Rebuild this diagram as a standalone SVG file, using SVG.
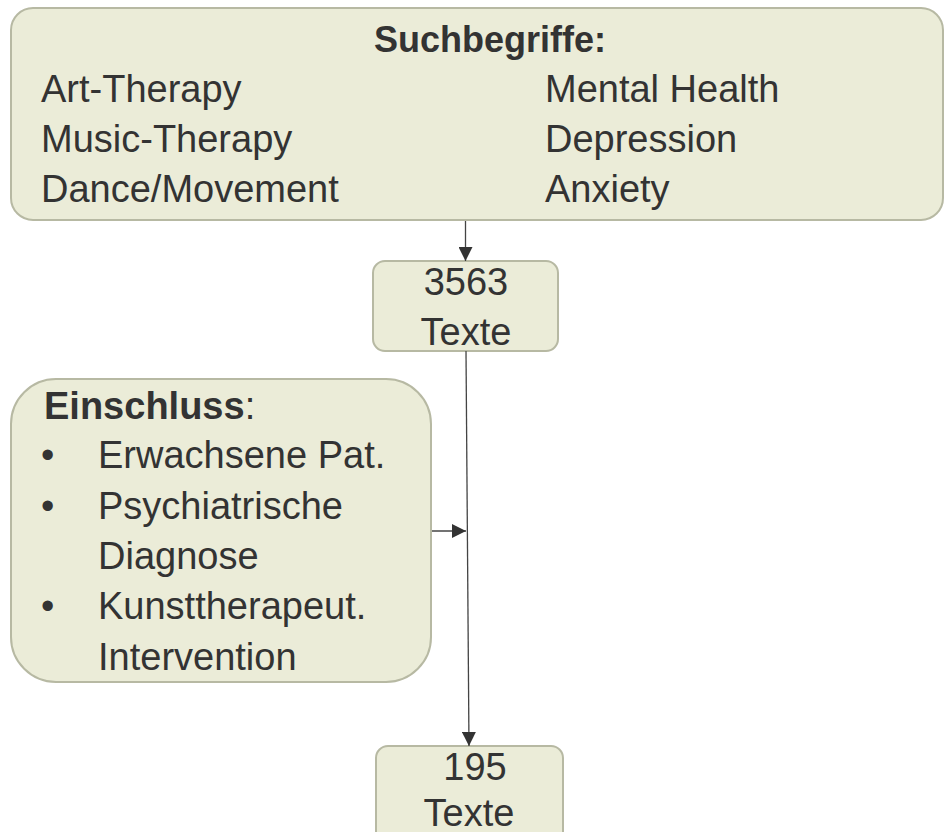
<svg xmlns="http://www.w3.org/2000/svg" width="944" height="832" viewBox="0 0 944 832">
<style>
.box{fill:#EBECD8;stroke:#B7B9A3;stroke-width:2}
text{font-family:"Liberation Sans",Arial,sans-serif;font-size:38px;fill:#333333}
.b{font-weight:bold}
.h{font-size:36px}
.c{text-anchor:middle}
.ln{stroke:#444444;stroke-width:1.3;fill:none}
</style>
<defs>
<marker id="ah" markerUnits="userSpaceOnUse" markerWidth="14" markerHeight="14" viewBox="0 0 14 14" refX="14" refY="7" orient="auto">
<path d="M0,0 L14,7 L0,14 Z" fill="#333333"/>
</marker>
</defs>
<rect width="944" height="832" fill="#FFFFFF"/>
<g id="suchbegriffe">
<rect class="box" x="11" y="8" width="932" height="212" rx="22"/>
<text class="b c h" x="490" y="52">Suchbegriffe:</text>
<text x="41" y="102">Art-Therapy</text>
<text x="41" y="152">Music-Therapy</text>
<text x="41" y="202">Dance/Movement</text>
<text x="545" y="102">Mental Health</text>
<text x="545" y="152">Depression</text>
<text x="545" y="202">Anxiety</text>
</g>
<g id="texte3563">
<rect class="box" x="373" y="261" width="185" height="90" rx="12"/>
<text class="c" x="466" y="295">3563</text>
<text class="c" x="466" y="345">Texte</text>
</g>
<g id="einschluss">
<rect class="box" x="11" y="379" width="420" height="303" rx="45"/>
<text x="44" y="419"><tspan class="b">Einschluss</tspan>:</text>
<text x="41" y="468">•</text>
<text x="98" y="468">Erwachsene Pat.</text>
<text x="41" y="519">•</text>
<text x="98" y="519">Psychiatrische</text>
<text x="98" y="569">Diagnose</text>
<text x="41" y="619">•</text>
<text x="98" y="619">Kunsttherapeut.</text>
<text x="98" y="670">Intervention</text>
</g>
<g id="texte195">
<rect class="box" x="376" y="746" width="187" height="100" rx="12"/>
<text class="c" x="475" y="780">195</text>
<text class="c" x="469" y="826">Texte</text>
</g>
<g id="connectors">
<line class="ln" x1="465.5" y1="221" x2="465.5" y2="261" marker-end="url(#ah)"/>
<line class="ln" x1="466" y1="351" x2="469" y2="746" marker-end="url(#ah)"/>
<line class="ln" x1="432" y1="531" x2="466" y2="531" marker-end="url(#ah)"/>
</g>
</svg>
